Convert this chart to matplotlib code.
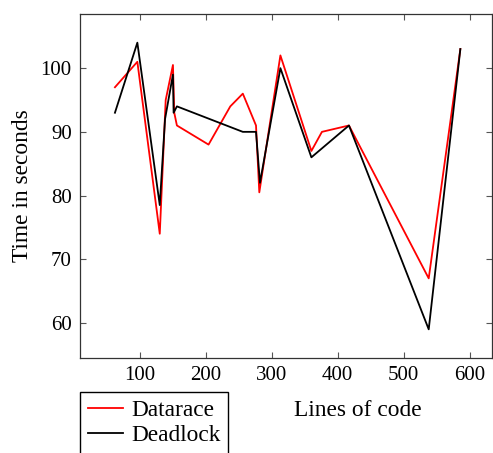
import matplotlib
matplotlib.use("Agg")
import matplotlib.pyplot as plt

plt.rcParams['font.family'] = ['Liberation Serif', 'DejaVu Serif']
plt.rcParams['mathtext.fontset'] = 'stix'

# Datarace series
race_loc = [62, 96, 130, 139, 150, 152, 156, 204, 237, 256, 276, 281, 313, 360, 376, 417, 538, 586]
race_time = [97, 101, 74, 95, 100.5, 93, 91, 88, 94, 96, 91, 80.5, 102, 87, 90, 91, 67, 103]

# Deadlock series
dead_loc = [62, 96, 130, 138, 150, 151, 156, 256, 276, 282, 313, 360, 417, 538, 586]
dead_time = [93, 104, 78.5, 92, 99, 93, 94, 90, 90, 82, 100, 86, 91, 59, 103]

fig = plt.figure(figsize=(4.93, 4.53), dpi=100)
ax = fig.add_axes([80/493, 1 - 358/453, 412/493, 344/453])

ax.plot(race_loc, race_time, color='red', lw=1.3, label='Datarace')
ax.plot(dead_loc, dead_time, color='black', lw=1.3, label='Deadlock')

ax.set_xlim(9, 634)
ax.set_ylim(54.5, 108.5)
ax.set_xticks([100, 200, 300, 400, 500, 600])
ax.set_yticks([60, 70, 80, 90, 100])
ax.tick_params(direction='in', top=True, right=True, length=4, width=0.8,
               color='#555555', labelsize=15, pad=6)
for s in ax.spines.values():
    s.set_color('#333333')
    s.set_linewidth(0.9)

ax.set_xlabel('Lines of code', fontsize=16.8)
ax.xaxis.set_label_coords((358 - 80) / 412, -(410 - 358) / 344, transform=ax.transAxes)
ax.xaxis.label.set_va('center')
ax.set_ylabel('Time in seconds', fontsize=16.8)
ax.yaxis.set_label_coords(-(80 - 33) / 412, 0.5)

fig.legend(loc='upper left', bbox_to_anchor=(80/493, 1 - 392/453), fontsize=16.8,
           fancybox=False, edgecolor='black', framealpha=1, handlelength=1.5,
           labelspacing=0.15, borderaxespad=0, borderpad=0.33, handletextpad=0.37)

fig.savefig('out.png', dpi=100)
